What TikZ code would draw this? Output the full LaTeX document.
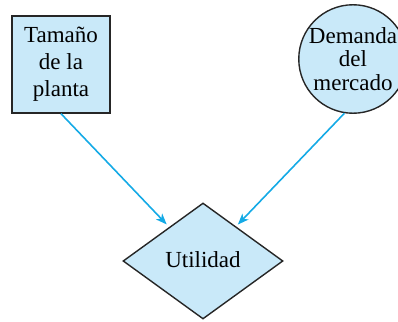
\documentclass[tikz,border=0pt]{standalone}
\usepackage{fontspec}
\setmainfont{Liberation Serif}
\usetikzlibrary{shapes.geometric,arrows.meta,calc}
\definecolor{boxfill}{HTML}{C9E9F9}
\definecolor{arrcol}{HTML}{14AAE6}
\begin{document}
\begin{tikzpicture}[x=1pt,y=1pt,
  shapebox/.style={draw=black!85,line width=1.4pt,fill=boxfill,align=center,inner sep=0pt,
     font=\fontsize{23}{27}\selectfont},
  arr/.style={draw=arrcol,line width=1.6pt,-{Stealth[length=11pt,width=8.5pt,inset=3pt]}}]
\useasboundingbox (0,0) rectangle (398,321);
\node[shapebox,rectangle,minimum width=98pt,minimum height=97pt] (sq) at (61,256.5) {Tamaño\\de la\\planta};
\node[shapebox,circle,minimum size=106pt,font=\fontsize{23}{23.5}\selectfont] (dm) at (353,262) {Demanda\\del\\mercado};
\node[shapebox,diamond,minimum width=160pt,minimum height=116pt] (ut) at (203,60) {\raisebox{3pt}{Utilidad}};
\coordinate (e1) at ($(ut.north)!0.42!(ut.west)$);
\coordinate (e2) at ($(ut.north)!0.41!(ut.east)$);
\draw[arr,shorten >=3.5pt] (sq.south) -- (e1);
\draw[arr,shorten >=2.5pt] (dm.-99) -- (e2);
\end{tikzpicture}
\end{document}
